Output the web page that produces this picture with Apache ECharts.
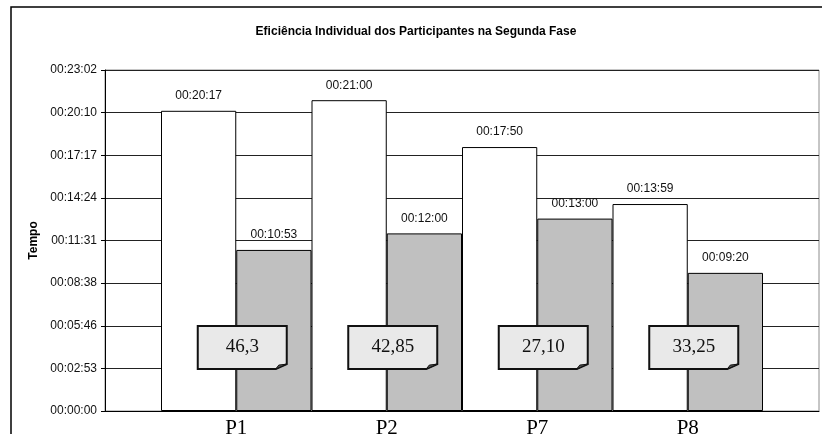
<!DOCTYPE html>
<html lang="pt">
<head>
    <meta charset="UTF-8">
    <title>Eficiência Individual</title>
    <script type="text/javascript" src="https://cdn.jsdelivr.net/npm/echarts@6/dist/echarts.min.js"></script>
    <style>
        html, body { margin: 0; padding: 0; background: #fff; }
    </style>
</head>
<body>
    <div id="main" style="width: 822px; height: 434px;"></div>
    <script type="text/javascript">

var participantes = ['P1', 'P2', 'P7', 'P8'];
// tempos em segundos
var tempoPrimeiro = [1217, 1260, 1070, 839];   // 00:20:17, 00:21:00, 00:17:50, 00:13:59
var tempoSegundo = [653, 720, 780, 560];       // 00:10:53, 00:12:00, 00:13:00, 00:09:20
var eficiencia = ['46,3', '42,85', '27,10', '33,25'];
var eficienciaAltura = [257, 257, 257, 257];   // altura (s) onde ficam as caixas
var passoTempo = 172.8;                        // 0,002 dia
var maxTempo = 8 * passoTempo;

function pad(n) { return (n < 10 ? '0' : '') + n; }
function hms(sec) {
    var s = Math.round(sec);
    return pad(Math.floor(s / 3600)) + ':' + pad(Math.floor(s / 60) % 60) + ':' + pad(s % 60);
}

var chartDom = document.getElementById('main');
var myChart = echarts.init(chartDom);
var option;

var sans = '"Liberation Sans", Arial, sans-serif';
var serif = '"Liberation Serif", "Times New Roman", serif';

var notas = participantes.map(function (p, i) {
    return [i, eficienciaAltura[i], eficiencia[i]];
});

option = {
    animation: false,
    backgroundColor: '#fff',
    title: {
        text: 'Eficiência Individual dos Participantes na Segunda Fase',
        left: 411,
        textAlign: 'center',
        top: 21,
        textStyle: { fontFamily: sans, fontSize: 12, fontWeight: 'bold', color: '#000' }
    },
    graphic: [{
        type: 'rect',
        shape: { x: 11, y: 7, width: 840, height: 450 },
        style: { fill: 'none', stroke: '#000', lineWidth: 1.5 },
        silent: true
    }],
    grid: [
        { left: 105, right: 3, top: 70, bottom: 23, show: true, borderColor: '#8c8c8c', borderWidth: 1,
          containLabel: false, outerBoundsMode: 'none' },
        { left: 161, right: 59, top: 70, bottom: 23, containLabel: false, outerBoundsMode: 'none' }
    ],
    xAxis: [
        {
            gridIndex: 0, type: 'value', min: 0, max: 1,
            axisLine: { show: true, onZero: false, lineStyle: { color: '#000', width: 1 } },
            axisTick: { show: false }, axisLabel: { show: false }, splitLine: { show: false }
        },
        {
            gridIndex: 1, type: 'category', data: participantes,
            axisLine: { show: false }, axisTick: { show: false },
            axisLabel: { fontFamily: serif, fontSize: 21, color: '#000', margin: 7 }
        }
    ],
    yAxis: [
        {
            gridIndex: 0, type: 'value', min: 0, max: maxTempo, interval: passoTempo,
            name: 'Tempo', nameLocation: 'middle', nameGap: 64, nameRotate: 90,
            nameTextStyle: { fontFamily: sans, fontSize: 12, fontWeight: 'bold', color: '#000' },
            axisLine: { show: true, lineStyle: { color: '#000', width: 1 } },
            axisTick: { show: true, length: 4, lineStyle: { color: '#000' } },
            axisLabel: { formatter: hms, fontFamily: sans, fontSize: 12, color: '#111', margin: 8 },
            splitLine: { show: true, lineStyle: { color: '#222', width: 1 } }
        },
        {
            gridIndex: 1, type: 'value', min: 0, max: maxTempo, interval: passoTempo,
            axisLine: { show: false }, axisTick: { show: false }, axisLabel: { show: false },
            splitLine: { show: false }
        }
    ],
    series: [
        {
            type: 'bar', xAxisIndex: 1, yAxisIndex: 1,
            data: tempoPrimeiro,
            barGap: '0%', barCategoryGap: '0%',
            itemStyle: { color: '#fff', borderColor: '#000', borderWidth: 1 },
            label: {
                show: true, position: 'top', distance: 9,
                formatter: function (p) { return hms(p.value); },
                fontFamily: sans, fontSize: 12, color: '#111'
            }
        },
        {
            type: 'bar', xAxisIndex: 1, yAxisIndex: 1,
            data: tempoSegundo,
            barGap: '0%', barCategoryGap: '0%',
            itemStyle: { color: '#c0c0c0', borderColor: '#000', borderWidth: 1 },
            label: {
                show: true, position: 'top', distance: 9,
                formatter: function (p) { return hms(p.value); },
                fontFamily: sans, fontSize: 12, color: '#111'
            }
        },
        {
            type: 'custom', xAxisIndex: 1, yAxisIndex: 1, z: 10,
            data: notas,
            encode: { x: 0, y: 1 },
            renderItem: function (params, api) {
                var c = api.coord([api.value(0), api.value(1)]);
                var w = 89, h = 43;
                var x0 = c[0] + 6 - w / 2, y0 = c[1] - h / 2;
                var x1 = x0 + w, y1 = y0 + h;
                return {
                    type: 'group',
                    children: [
                        {
                            type: 'polygon',
                            shape: { points: [[x0, y0], [x1, y0], [x1, y1 - 5], [x1 - 11, y1], [x0, y1]] },
                            style: { fill: '#e9e9e9', stroke: '#111', lineWidth: 2 }
                        },
                        {
                            type: 'polygon',
                            shape: { points: [[x1, y1 - 5], [x1 - 11, y1], [x1 - 8, y1 - 4]] },
                            style: { fill: '#555', stroke: '#111', lineWidth: 1 }
                        },
                        {
                            type: 'text',
                            style: {
                                text: api.value(2), x: (x0 + x1) / 2, y: (y0 + y1) / 2 - 1,
                                align: 'center', verticalAlign: 'middle',
                                font: '19px ' + serif, fill: '#111'
                            }
                        }
                    ]
                };
            }
        }
    ]
};

option && myChart.setOption(option);
    </script>
</body>
</html>
